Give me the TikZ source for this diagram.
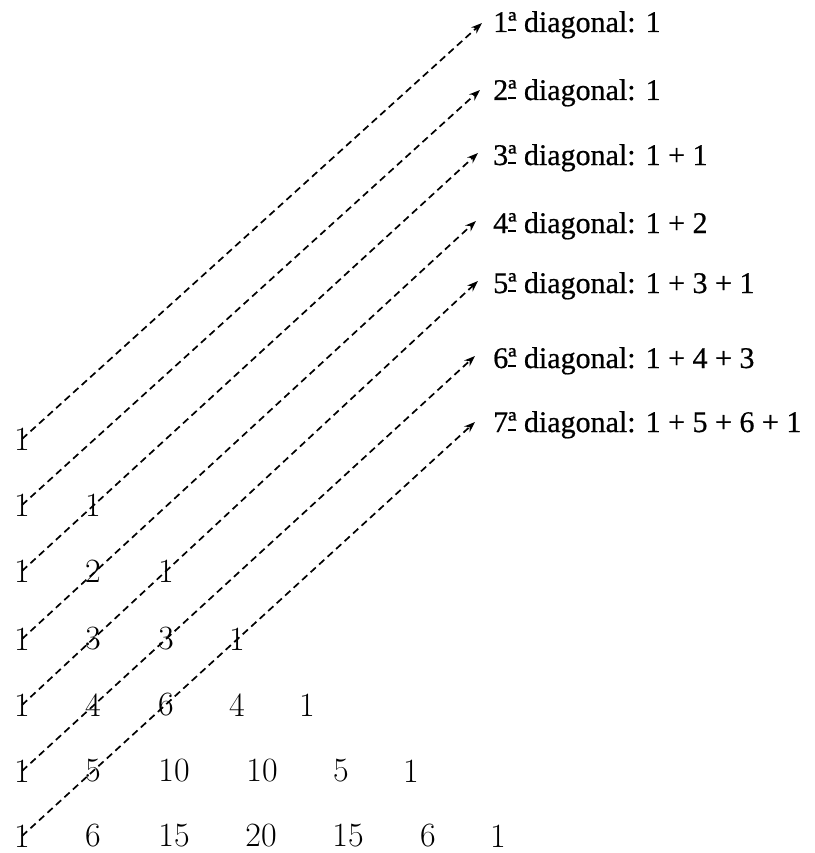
\documentclass[tikz,border=0pt]{standalone}
\usepackage{fontspec}
\newfontfamily\labfont[FakeBold=0.6]{Liberation Serif}
\usetikzlibrary{arrows.meta}
\newcommand\ordul{\setbox0\hbox{ª}\rlap{\rule[1pt]{\wd0}{1.6pt}}\box0}
\begin{document}
\begin{tikzpicture}[x=1pt,y=1pt,
  num/.style={inner sep=0pt,font=\fontsize{34}{40}\selectfont},
  lab/.style={inner sep=0pt,anchor=base west,font=\labfont\fontsize{30}{36}\selectfont},
  diag/.style={dash pattern=on 7pt off 4.5pt,line width=1.7pt,-{Stealth[length=11pt,width=8pt]}}]
\useasboundingbox (0,0) rectangle (814,-853);
% triangle
\node[num] (n11) at (22,-439) {1};
\node[num] (n21) at (22,-505) {1};
\node[num] (n22) at (93,-505) {1};
\node[num] (n31) at (22,-571) {1};
\node[num] (n32) at (93,-571) {2};
\node[num] (n33) at (166,-571) {1};
\node[num] (n41) at (22,-639) {1};
\node[num] (n42) at (93,-639) {3};
\node[num] (n43) at (166,-639) {3};
\node[num] (n44) at (237,-639) {1};
\node[num] (n51) at (22,-705) {1};
\node[num] (n52) at (93,-705) {4};
\node[num] (n53) at (166,-705) {6};
\node[num] (n54) at (237,-705) {4};
\node[num] (n55) at (307,-705) {1};
\node[num] (n61) at (22,-771) {1};
\node[num] (n62) at (93,-771) {5};
\node[num] (n63) at (174,-771) {10};
\node[num] (n64) at (262,-771) {10};
\node[num] (n65) at (341,-771) {5};
\node[num] (n66) at (411,-771) {1};
\node[num] (n71) at (22,-836) {1};
\node[num] (n72) at (93,-836) {6};
\node[num] (n73) at (174,-836) {15};
\node[num] (n74) at (261,-836) {20};
\node[num] (n75) at (348,-836) {15};
\node[num] (n76) at (428,-836) {6};
\node[num] (n77) at (498,-836) {1};
% labels
\node[lab] (l1) at (493,-32) {1\ordul{} diagonal: 1};
\node[lab] (l2) at (493,-100) {2\ordul{} diagonal: 1};
\node[lab] (l3) at (493,-165) {3\ordul{} diagonal: 1 + 1};
\node[lab] (l4) at (493,-233) {4\ordul{} diagonal: 1 + 2};
\node[lab] (l5) at (493,-293) {5\ordul{} diagonal: 1 + 3 + 1};
\node[lab] (l6) at (493,-368) {6\ordul{} diagonal: 1 + 4 + 3};
\node[lab] (l7) at (493,-432) {7\ordul{} diagonal: 1 + 5 + 6 + 1};
% arrow tips
\coordinate (t1) at (482,-23);
\coordinate (t2) at (480,-90);
\coordinate (t3) at (478,-153);
\coordinate (t4) at (476,-221);
\coordinate (t5) at (478,-281);
\coordinate (t6) at (475,-356);
\coordinate (t7) at (475,-422);
% diagonals
\draw[diag] (n11.center) -- (t1);
\draw[diag] (n21.center) -- (t2);
\draw[diag] (n31.center) -- (t3);
\draw[diag] (n41.center) -- (t4);
\draw[diag] (n51.center) -- (t5);
\draw[diag] (n61.center) -- (t6);
\draw[diag] (n71.center) -- (t7);
\end{tikzpicture}
\end{document}
